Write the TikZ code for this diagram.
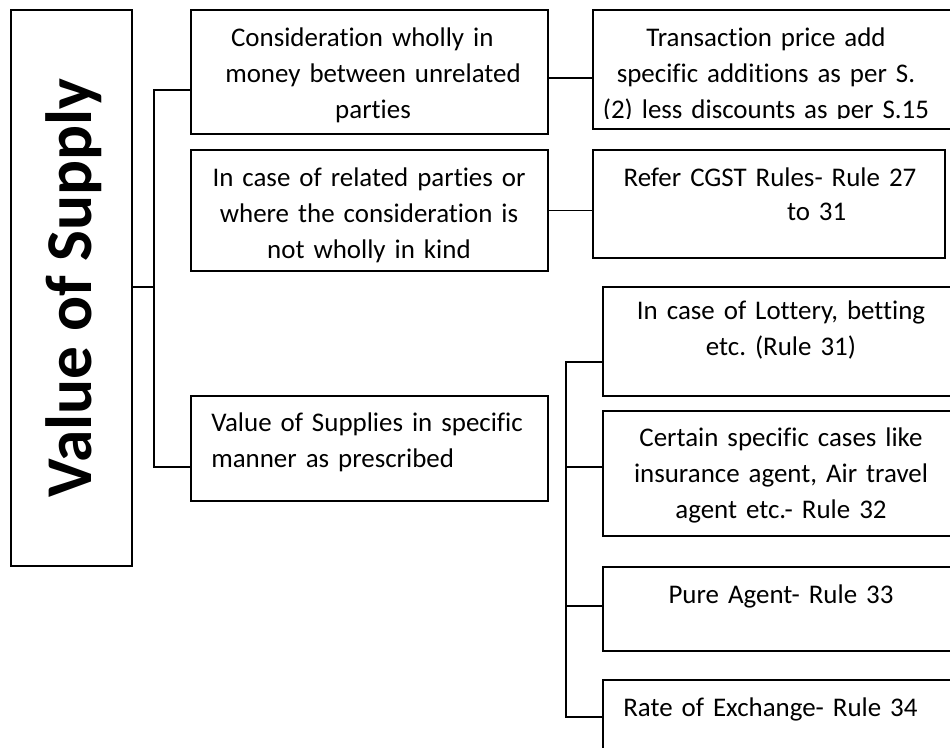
\documentclass[tikz,border=0pt]{standalone}
\usepackage{fontspec}
\setmainfont{Carlito}[Ligatures=NoCommon]
\usetikzlibrary{fit}
\frenchspacing
\begin{document}
\begin{tikzpicture}[x=0.75pt,y=-0.75pt,
  bx/.style={draw, line width=0.9pt, inner sep=0pt},
  conn/.style={draw, line width=0.9pt},
  txt/.style={inner sep=0pt, font=\fontsize{20.2}{26.8}\selectfont},
  ctxt/.style={txt, align=center, text width=260pt, anchor=base},
  ltxt/.style={txt, align=left, text width=260pt, anchor=base west}]
\path[use as bounding box] (0,0) rectangle (950,748);
\clip (0,0) rectangle (950,748);
% box corners
\coordinate (m-nw) at (11,10);   \coordinate (m-se) at (132,566);
\coordinate (b1-nw) at (191,10); \coordinate (b1-se) at (548,134);
\coordinate (b2-nw) at (191,150);\coordinate (b2-se) at (548,271);
\coordinate (b3-nw) at (191,396);\coordinate (b3-se) at (548,501);
\coordinate (r1-nw) at (593,10); \coordinate (r1-se) at (965,129);
\coordinate (r2-nw) at (593,150);\coordinate (r2-se) at (945,258);
\coordinate (s1-nw) at (603,287);\coordinate (s1-se) at (965,396);
\coordinate (s2-nw) at (603,411);\coordinate (s2-se) at (965,536);
\coordinate (s3-nw) at (603,567);\coordinate (s3-se) at (965,651);
\coordinate (s4-nw) at (603,680);\coordinate (s4-se) at (965,770);
\foreach \n in {m,b1,b2,b3,r1,r2,s1,s2,s3,s4}
  \node[bx, fit=(\n-nw)(\n-se)] (\n) {};
% junction coordinates
\coordinate (j0) at (154,287);
\coordinate (t1) at (154,90);
\coordinate (t3) at (154,467);
\coordinate (k1) at (570,78);
\coordinate (u1) at (566,362);
\coordinate (u2) at (566,467);
\coordinate (u3) at (566,606);
\coordinate (u4) at (566,717);
\coordinate (r1clip) at (960,119);
% connectors
\draw[conn] (m.east |- j0) -- (j0);
\draw[conn] (b1.west |- t1) -- (t1) -- (t3) -- (b3.west |- t3);
\draw[conn] (b1.east |- k1) -- (r1.west |- k1);
\draw[conn] (b2.east) -- (r2.west |- b2.east);
\draw[conn] (s1.west |- u1) -- (u1) -- (u4) -- (s4.west |- u4);
\draw[conn] (u2) -- (s2.west |- u2);
\draw[conn] (u3) -- (s3.west |- u3);
% texts
\node[rotate=90, inner sep=0pt, font=\bfseries\fontsize{49}{50}\selectfont] (title) at ([xshift=1.5pt]m.center) {Value of Supply};
\node[ctxt] (tb1) at (373,47) {Consideration wholly in\hspace*{16pt}\mbox{}\\money between unrelated\\parties};
\node[ctxt] (tb2) at (369,187) {In case of related parties or\\where the consideration is\\not wholly in kind};
\node[ltxt] (tb3) at (211,432) {Value of Supplies in specific\\manner as prescribed};
\begin{scope}
\clip (r1.north west) rectangle (r1clip);
\node[ctxt] (tr1) at (766,47) {Transaction price add\\specific additions as per S.\\(2) less discounts as per S.15};
\end{scope}
\node[ctxt, font=\fontsize{20.2}{25}\selectfont] (tr2) at (770,187) {Refer CGST Rules- Rule 27\\\hspace*{70pt}to 31};
\node[ctxt] (ts1) at (781,320) {In case of Lottery, betting\\etc. (Rule 31)};
\node[ctxt] (ts2) at (781,447) {Certain specific cases like\\insurance agent, Air travel\\agent etc.- Rule 32};
\node[ctxt] (ts3) at (781,603) {Pure Agent- Rule 33};
\node[ltxt] (ts4) at (623,716) {Rate of Exchange- Rule 34};
\end{tikzpicture}
\end{document}
